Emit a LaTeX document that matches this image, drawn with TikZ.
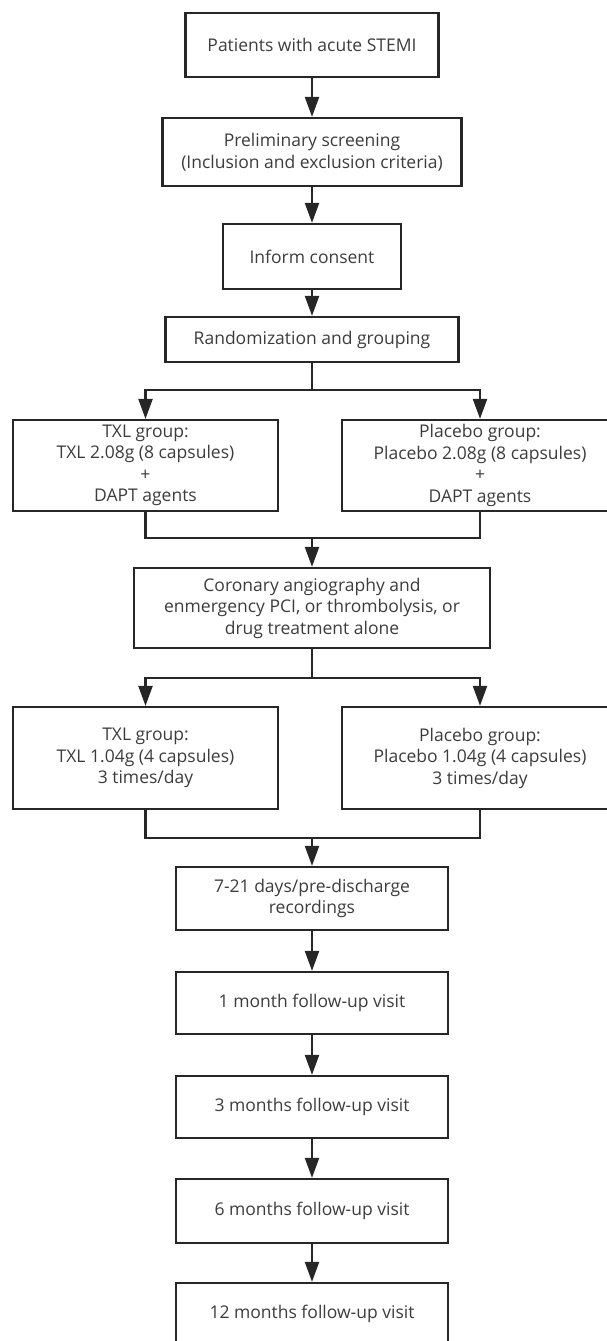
\documentclass[tikz,border=0pt]{standalone}
\usepackage{fontspec}
\setmainfont{Open Sans}
\usetikzlibrary{arrows.meta,positioning}
\definecolor{linec}{HTML}{262626}
\definecolor{textc}{HTML}{3C3C3C}
\tikzset{
  box/.style={draw=linec, line width=2.2pt, rectangle, align=center, inner sep=0pt,
    text=textc, font=\fontsize{17.5}{21.5}\selectfont},
  link/.style={draw=linec, line width=2.2pt, line cap=rect},
  arr/.style={draw=linec, line width=2.2pt, -{Triangle[length=20pt,width=14pt]}}
}
\begin{document}
\begin{tikzpicture}[x=1pt,y=-1pt]
\useasboundingbox (0,0) rectangle (607,1341);
\node[box, minimum width=253pt, minimum height=64pt] (p1) at (312,45) {Patients with acute STEMI};
\node[box, minimum width=299pt, minimum height=68pt] (p2) at (312,152) {Preliminary screening\\(Inclusion and exclusion criteria)};
\node[box, minimum width=178pt, minimum height=65pt] (p3) at (312,256.5) {Inform consent};
\node[box, minimum width=293pt, minimum height=45pt] (p4) at (312,339.5) {Randomization and grouping};
\node[box, minimum width=265pt, minimum height=91pt] (t1) at (145.5,465.5) {TXL group:\\TXL 2.08g (8 capsules)\\+\\DAPT agents};
\node[box, minimum width=276pt, minimum height=91pt] (q1) at (480,465.5) {Placebo group:\\Placebo 2.08g (8 capsules)\\+\\DAPT agents};
\node[box, minimum width=356pt, minimum height=80pt] (c) at (312,608) {Coronary angiography and\\enmergency PCI, or thrombolysis, or\\drug treatment alone};
\node[box, minimum width=265pt, minimum height=102pt] (t2) at (145.5,758) {TXL group:\\TXL 1.04g (4 capsules)\\3 times/day};
\node[box, minimum width=276pt, minimum height=102pt] (q2) at (480,758) {Placebo group:\\Placebo 1.04g (4 capsules)\\3 times/day};
\node[box, minimum width=272pt, minimum height=63pt] (r) at (312,898.5) {7-21 days/pre-discharge\\recordings};
\node[box, minimum width=272pt, minimum height=62pt] (f1) at (312,1003) {1 month follow-up visit};
\node[box, minimum width=272pt, minimum height=62pt] (f3) at (312,1107) {3 months follow-up visit};
\node[box, minimum width=272pt, minimum height=64pt] (f6) at (312,1211) {6 months follow-up visit};
\node[box, minimum width=272pt, minimum height=62pt] (f12) at (312,1314) {12 months follow-up visit};
\coordinate (s1) at (312,390);
\coordinate (j1) at (312,538);
\coordinate (s2) at (312,678);
\coordinate (j2) at (312,838);
\draw[arr] (p1) -- (p2);
\draw[arr] (p2) -- (p3);
\draw[arr] (p3) -- (p4);
\draw[link] (p4.south) -- (s1);
\draw[arr] (s1) -| (t1.north);
\draw[arr] (s1) -| (q1.north);
\draw[link] (t1.south) |- (j1) -| (q1.south);
\draw[arr] (j1) -- (c.north);
\draw[link] (c.south) -- (s2);
\draw[arr] (s2) -| (t2.north);
\draw[arr] (s2) -| (q2.north);
\draw[link] (t2.south) |- (j2) -| (q2.south);
\draw[arr] (j2) -- (r.north);
\draw[arr] (r) -- (f1);
\draw[arr] (f1) -- (f3);
\draw[arr] (f3) -- (f6);
\draw[arr] (f6) -- (f12);
\end{tikzpicture}
\end{document}
